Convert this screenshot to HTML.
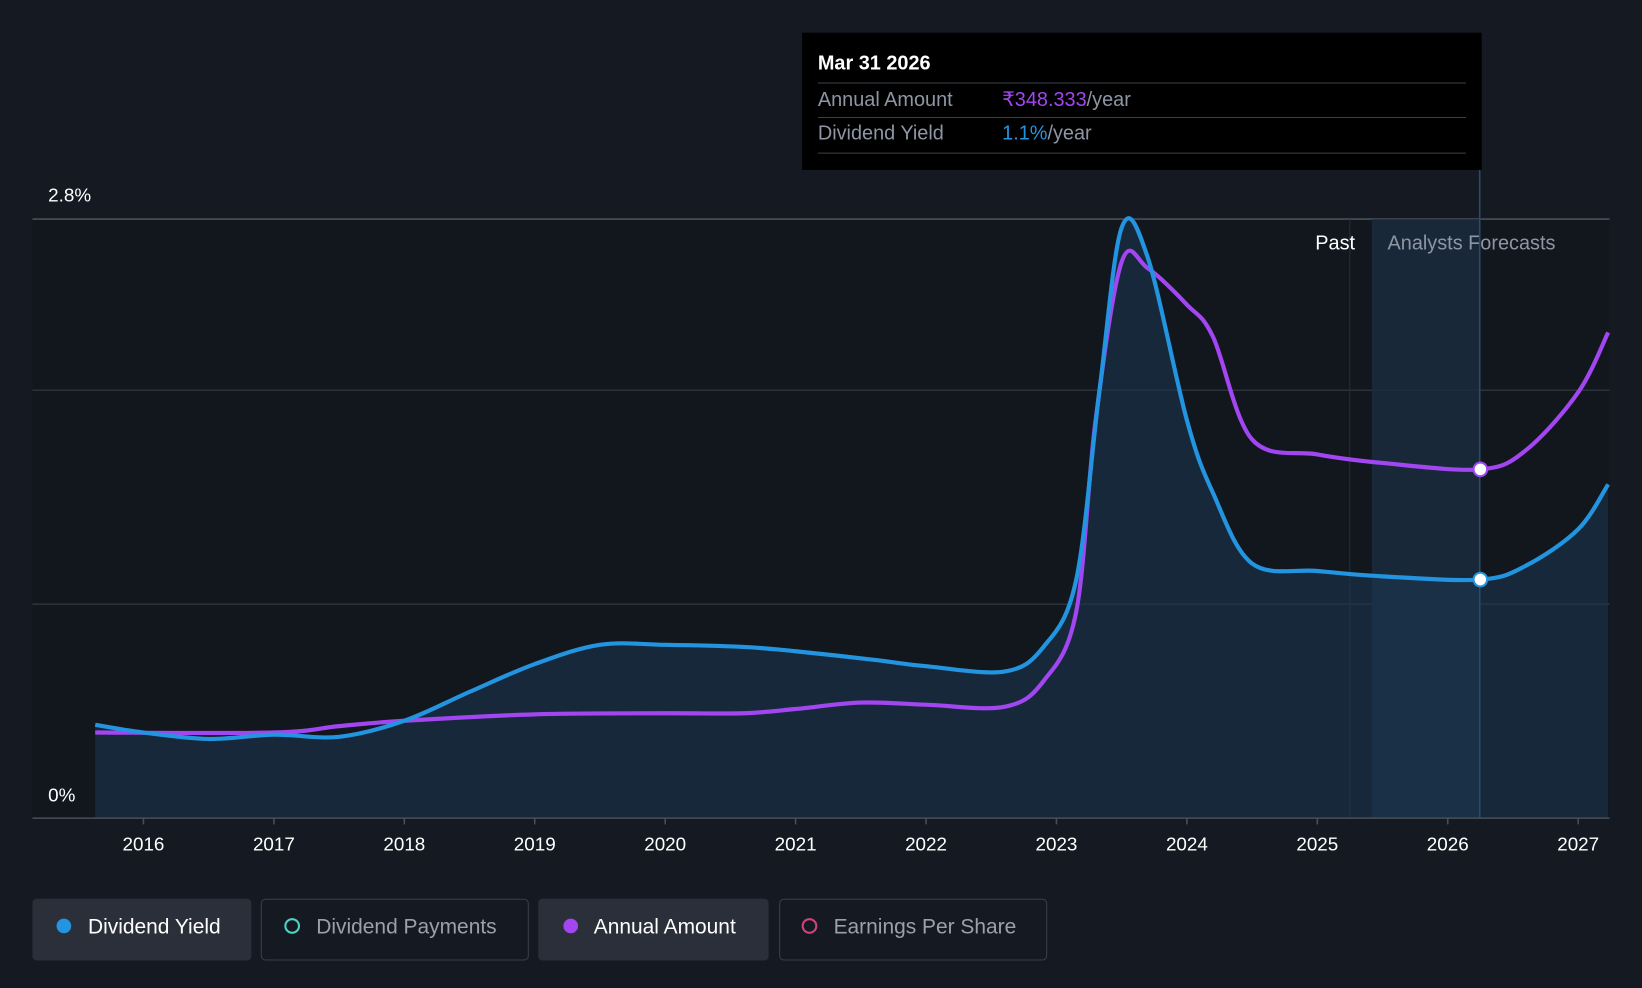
<!DOCTYPE html>
<html><head><meta charset="utf-8">
<style>
html,body{margin:0;padding:0;background:#151a22;overflow:hidden;}
svg{display:block;font-family:"Liberation Sans",sans-serif;}
</style></head>
<body>
<svg id="chart" width="1642" height="988" viewBox="0 0 1568 943">
<rect x="0" y="0" width="1568" height="943" fill="#151a22"/>
<rect x="31" y="209" width="1506" height="572" fill="#12161d"/>
<g id="grid"></g>
<rect x="1310" y="209" width="104" height="572" fill="#1a2b3d" opacity="0.85"/>
<line x1="1289" y1="209" x2="1289" y2="781" stroke="#24303d" stroke-width="1"/>
<text x="1294" y="238" fill="#ffffff" font-size="19" text-anchor="end">Past</text>
<text x="1325" y="238" fill="#8e96a3" font-size="19">Analysts Forecasts</text>
<g id="series"></g>
<line x1="1413" y1="162" x2="1413" y2="781" stroke="#2a4a66" stroke-width="1.5"/>
<g id="markers"></g>
<g id="xaxis"></g>
<text x="46" y="192" fill="#ffffff" font-size="18">2.8%</text>
<text x="46" y="765" fill="#ffffff" font-size="18">0%</text>
<g>
<rect x="766" y="31" width="649" height="131" fill="#000000"/>
<text x="781" y="66" fill="#ffffff" font-size="19" font-weight="bold">Mar 31 2026</text>
<line x1="781" y1="79" x2="1400" y2="79" stroke="#3a3f47"/>
<text x="781" y="101" fill="#8e96a3" font-size="19">Annual Amount</text>
<text x="957" y="101" font-size="19"><tspan fill="#a146f0">₹348.333</tspan><tspan fill="#8e96a3">/year</tspan></text>
<line x1="781" y1="112" x2="1400" y2="112" stroke="#3a3f47"/>
<text x="781" y="133" fill="#8e96a3" font-size="19">Dividend Yield</text>
<text x="957" y="133" font-size="19"><tspan fill="#2394df">1.1%</tspan><tspan fill="#8e96a3">/year</tspan></text>
<line x1="781" y1="146" x2="1400" y2="146" stroke="#3a3f47"/>
</g>
<g>
<g><rect x="31" y="858" width="209" height="59" rx="4" fill="#2a2f39"/><circle cx="61" cy="884" r="7" fill="#2394df"/><text x="84" y="891" fill="#ffffff" font-size="20">Dividend Yield</text></g>
<g><rect x="249.5" y="858.5" width="255" height="58" rx="4" fill="none" stroke="#3a3f47"/><circle cx="279" cy="884" r="6.5" fill="none" stroke="#4fd1c5" stroke-width="2"/><text x="302" y="891" fill="#9aa1ab" font-size="20">Dividend Payments</text></g>
<g><rect x="514" y="858" width="220" height="59" rx="4" fill="#2a2f39"/><circle cx="545" cy="884" r="7" fill="#a146f0"/><text x="567" y="891" fill="#ffffff" font-size="20">Annual Amount</text></g>
<g><rect x="744.5" y="858.5" width="255" height="58" rx="4" fill="none" stroke="#3a3f47"/><circle cx="773" cy="884" r="6.5" fill="none" stroke="#d0427f" stroke-width="2"/><text x="796" y="891" fill="#9aa1ab" font-size="20">Earnings Per Share</text></g>
</g>
</svg>
<script>
const yieldDates=[2015.63,2016.0,2016.5,2017.0,2017.5,2018.0,2018.5,2019.0,2019.5,2020.0,2020.6,2021.0,2021.6,2022.0,2022.6,2022.9,2023.15,2023.33,2023.5,2023.7,2024.0,2024.2,2024.5,2025.0,2025.5,2026.25,2026.6,2027.0,2027.23];
const yieldValues=[0.436,0.40,0.37,0.39,0.38,0.455,0.59,0.72,0.81,0.81,0.80,0.78,0.74,0.71,0.685,0.80,1.11,2.0,2.76,2.62,1.86,1.52,1.19,1.155,1.13,1.115,1.18,1.35,1.56];
const amountDates=[2015.63,2017.0,2017.5,2018.0,2019.0,2020.0,2020.6,2021.0,2021.5,2022.0,2022.6,2022.9,2023.15,2023.3,2023.5,2023.7,2024.0,2024.2,2024.5,2025.0,2025.5,2026.25,2026.6,2027.0,2027.23];
const amountValues=[0.40,0.40,0.43,0.455,0.485,0.49,0.49,0.51,0.54,0.53,0.52,0.64,0.96,1.86,2.60,2.57,2.40,2.25,1.77,1.70,1.66,1.63,1.72,1.99,2.27];
const xTicks=[2016,2017,2018,2019,2020,2021,2022,2023,2024,2025,2026,2027];
const gridValues=[1.0,2.0,2.8];
const markerDate=2026.25;
const NS="http://www.w3.org/2000/svg";
function X(t){return 137+(t-2016)*124.55;}
function Y(v){return 781-v*204.3;}
function path(ds,vs){
  const p=ds.map((d,i)=>[X(d),Y(vs[i])]);
  let s="M"+p[0][0]+","+p[0][1];
  for(let i=0;i<p.length-1;i++){
    const p0=p[i-1]||p[i],p1=p[i],p2=p[i+1],p3=p[i+2]||p2;
    const c1=[p1[0]+(p2[0]-p0[0])/6,p1[1]+(p2[1]-p0[1])/6];
    const c2=[p2[0]-(p3[0]-p1[0])/6,p2[1]-(p3[1]-p1[1])/6];
    s+=" C"+c1+" "+c2+" "+p2;
  }
  return s;
}
function interp(ds,vs,t){for(let i=0;i<ds.length-1;i++){if(t>=ds[i]&&t<=ds[i+1]){const f=(t-ds[i])/(ds[i+1]-ds[i]);return vs[i]+f*(vs[i+1]-vs[i]);}}return vs[vs.length-1];}
function mk(tag,attrs,parent){const e=document.createElementNS(NS,tag);for(const k in attrs)e.setAttribute(k,attrs[k]);parent.appendChild(e);return e;}
const grid=document.getElementById("grid");
gridValues.forEach(v=>{
  const l=mk("line",{x1:31,x2:1537,y1:Y(v),y2:Y(v),stroke:v===2.8?"#4a4f57":"#2c323b","stroke-width":1.5},grid);
  
  
});
const ser=document.getElementById("series");
const yp=path(yieldDates,yieldValues);
const area=mk("path",{d:yp+" L"+X(yieldDates[yieldDates.length-1])+",781 L"+X(yieldDates[0])+",781 Z",fill:"#1b3550",opacity:"0.6"},ser);


const al=mk("path",{d:path(amountDates,amountValues),fill:"none",stroke:"#a146f0","stroke-width":4},ser);


const yl=mk("path",{d:yp,fill:"none",stroke:"#2394df","stroke-width":4},ser);


const mg=document.getElementById("markers");
const m1=mk("circle",{cx:X(markerDate),cy:Y(interp(amountDates,amountValues,markerDate)),r:6.5,fill:"#ffffff",stroke:"#a146f0","stroke-width":2},mg);


const m2=mk("circle",{cx:X(markerDate),cy:Y(interp(yieldDates,yieldValues,markerDate)),r:6.5,fill:"#ffffff",stroke:"#2394df","stroke-width":2},mg);


const xa=document.getElementById("xaxis");
const base=mk("line",{x1:31,x2:1537,y1:781,y2:781,stroke:"#4a4f57","stroke-width":1.5},xa);


xTicks.forEach(t=>{
  const tk=mk("line",{x1:X(t),x2:X(t),y1:781,y2:787,stroke:"#4a4f57","stroke-width":1.5},xa);
  
  
  const tx=mk("text",{x:X(t),y:812,fill:"#ffffff","font-size":18,"text-anchor":"middle"},xa);
  tx.textContent=t;
  
  
});
</script>
</body></html>
